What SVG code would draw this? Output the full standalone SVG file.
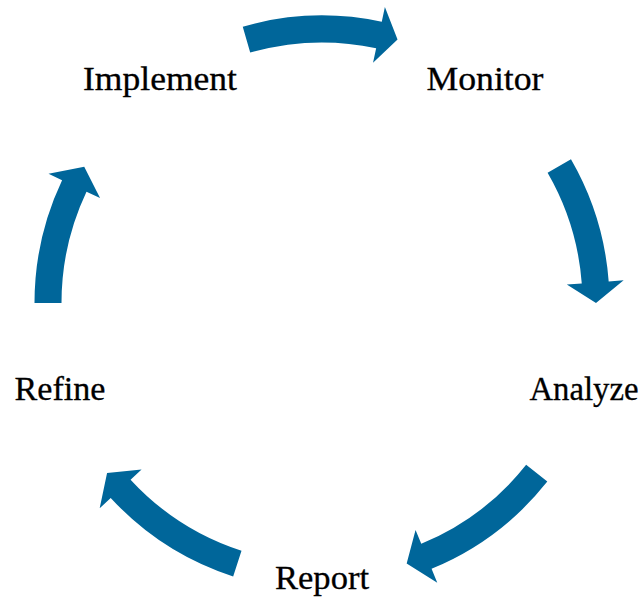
<svg xmlns="http://www.w3.org/2000/svg" width="643" height="600" viewBox="0 0 643 600">
<style>
.arrow{fill:#00669A;stroke:none}
.lbl{font-family:"Liberation Serif","Times New Roman",serif;font-size:33px;fill:#000;text-anchor:middle;stroke:#000;stroke-width:0.3px}
</style>
<rect width="643" height="600" fill="#fff"/>
<g id="connectors">
<path class="arrow" d="M242.75 26.64 A287.5 287.5 0 0 1 381.77 21.78 L384.89 7.11 L397.53 39.61 L373.04 62.86 L376.16 48.19 A260.5 260.5 0 0 0 250.2 52.59 Z"/>
<path class="arrow" d="M570.98 159.25 A287.5 287.5 0 0 1 608.69 281.44 L623.65 280.32 L596 303 L566.81 284.59 L581.77 283.47 A260.5 260.5 0 0 0 547.6 172.75 Z"/>
<path class="arrow" d="M547.31 481.58 A287.5 287.5 0 0 1 431.56 568.81 L437.27 582.68 L406.67 563.59 L415.55 529.98 L421.27 543.85 A260.5 260.5 0 0 0 526.15 464.81 Z"/>
<path class="arrow" d="M233.16 576.43 A287.5 287.5 0 0 1 110.71 497.97 L99.69 508.14 L107.07 472.95 L141.58 469.49 L130.56 479.66 A260.5 260.5 0 0 0 241.5 550.75 Z"/>
<path class="arrow" d="M34.5 303 A287.5 287.5 0 0 1 62.08 180.13 L48.52 173.72 L84.23 166.83 L100.05 198.08 L86.49 191.67 A260.5 260.5 0 0 0 61.5 303 Z"/>
</g>
<g id="implement"><text class="lbl" x="160" y="90" textLength="154" lengthAdjust="spacingAndGlyphs">Implement</text></g>
<g id="monitor"><text class="lbl" x="485" y="90" textLength="117" lengthAdjust="spacingAndGlyphs">Monitor</text></g>
<g id="analyze"><text class="lbl" x="584" y="400" textLength="109" lengthAdjust="spacingAndGlyphs">Analyze</text></g>
<g id="report"><text class="lbl" x="322" y="589" textLength="94" lengthAdjust="spacingAndGlyphs">Report</text></g>
<g id="refine"><text class="lbl" x="60" y="400" textLength="91" lengthAdjust="spacingAndGlyphs">Refine</text></g>
</svg>
